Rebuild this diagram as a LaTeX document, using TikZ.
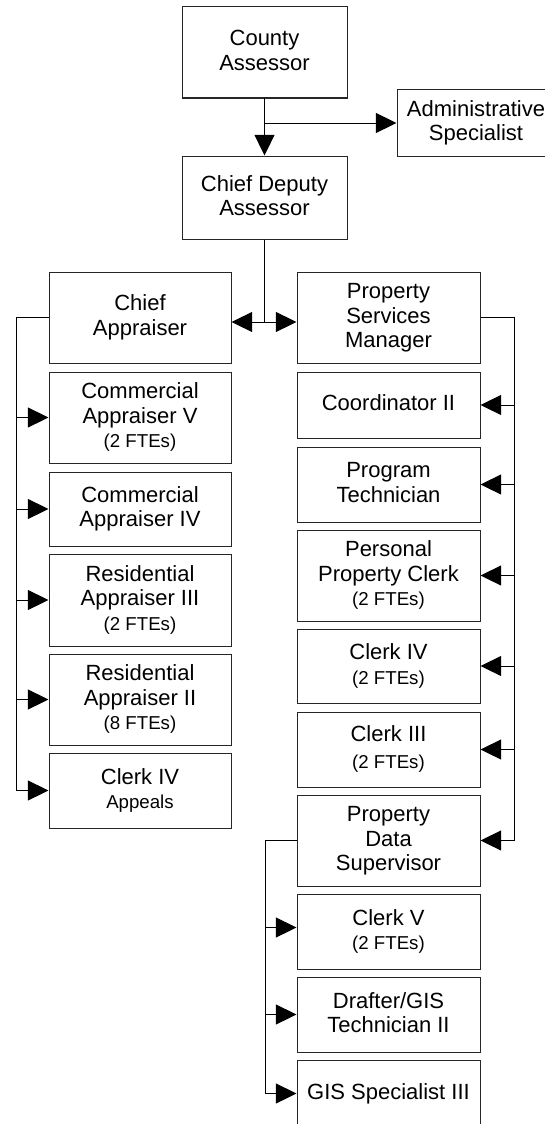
\documentclass[tikz,border=0pt]{standalone}
\usepackage{fontspec}
\setmainfont{Liberation Sans}
\usetikzlibrary{arrows.meta}
\newcommand\ls{\rule[-3.3pt]{0pt}{15.1pt}}
\newcommand\sm[1]{{\fontsize{14}{18.4}\selectfont #1}}
\setlength\lineskiplimit{-100pt}
\begin{document}
\begin{tikzpicture}[x=0.75pt,y=-0.75pt,
  box/.style={draw=black!85, line width=0.75pt, inner sep=0pt, align=center,
    font={\fontsize{16.5}{18.4}\selectfont}},
  sz/.style 2 args={minimum width=#1*0.75pt, minimum height=#2*0.75pt},
  conn/.style={draw=black, line width=0.75pt},
  arr/.style={conn, -{Triangle[length=15.5pt,width=15pt]}},
  ]
\useasboundingbox (0,0) rectangle (545,1124);
\fill[white] (0,0) rectangle (545,1124);
% top
\node[box, sz={165}{91}] (county) at (264.5,52.5) {\ls County\\\ls Assessor};
\node[box, sz={158}{66}] (admin) at (476,123) {\ls Administrative\\\ls Specialist};
\node[box, sz={165}{83}] (deputy) at (264.5,197.5) {\ls Chief Deputy\\\ls Assessor};
\node[box, sz={182}{91}] (chiefapp) at (140,317.5) {\ls Chief\\\ls Appraiser};
\node[box, sz={183}{91}] (psm) at (388.5,317.5) {\ls Property\\\ls Services\\\ls Manager};
% left column
\node[box, sz={182}{91}] (cav) at (140,417.5) {\ls Commercial\\\ls Appraiser V\\\ls\sm{(2 FTEs)}};
\node[box, sz={182}{74}] (caiv) at (140,509) {\ls Commercial\\\ls Appraiser IV};
\node[box, sz={182}{92}] (raiii) at (140,600) {\ls Residential\\\ls Appraiser III\\\ls\sm{(2 FTEs)}};
\node[box, sz={182}{91}] (raii) at (140,699.5) {\ls Residential\\\ls Appraiser II\\\ls\sm{(8 FTEs)}};
\node[box, sz={182}{75}] (clerkiva) at (140,790.5) {\ls Clerk IV\\\ls\sm{Appeals}};
% right column
\node[box, sz={183}{66}] (coord) at (388.5,405) {\ls Coordinator II};
\node[box, sz={183}{75}] (progtech) at (388.5,484.5) {\ls Program\\\ls Technician};
\node[box, sz={183}{91}] (ppc) at (388.5,575.5) {\ls Personal\\\ls Property Clerk\\\ls\sm{(2 FTEs)}};
\node[box, sz={183}{74}] (clerkiv) at (388.5,666) {\ls Clerk IV\\\ls\sm{(2 FTEs)}};
\node[box, sz={183}{75}] (clerkiii) at (388.5,749.5) {\ls Clerk III\\[2pt]\ls\sm{(2 FTEs)}};
\node[box, sz={183}{91}] (pds) at (388.5,840.5) {\ls Property\\\ls Data\\\ls Supervisor};
\node[box, sz={183}{75}] (clerkv) at (388.5,931.5) {\ls Clerk V\\\ls\sm{(2 FTEs)}};
\node[box, sz={183}{75}] (drafter) at (388.5,1014.5) {\ls Drafter/GIS\\\ls Technician II};
\node[box, sz={183}{67}] (gis) at (388.5,1093.5) {\ls GIS Specialist III};
% connectors top
\draw[arr] (county.south) -- (deputy.north);
\draw[arr] (county.south |- admin.west) -- (admin.west);
\coordinate (j) at (264.5,322);
\draw[conn] (deputy.south) -- (j);
\draw[arr] (j) -- (j -| chiefapp.east);
\draw[arr] (j) -- (j -| psm.west);
% left trunk
\coordinate (lt) at (16,317.5);
\draw[conn] (chiefapp.west) -- (lt) -- (lt |- clerkiva.west);
\foreach \n in {cav,caiv,raiii,raii,clerkiva} \draw[arr] (lt |- \n.west) -- (\n.west);
% right trunk
\coordinate (rt) at (514,317.5);
\draw[conn] (psm.east) -- (rt) -- (rt |- pds.east);
\foreach \n in {coord,progtech,ppc,clerkiv,clerkiii,pds} \draw[arr] (rt |- \n.east) -- (\n.east);
% sub trunk
\coordinate (st) at (265,840.5);
\draw[conn] (pds.west) -- (st) -- (st |- gis.west);
\coordinate (cvp) at ([yshift=3pt]clerkv.west);
\draw[arr] (st |- cvp) -- (cvp);
\draw[arr] (st |- drafter.west) -- (drafter.west);
\draw[arr] (st |- gis.west) -- (gis.west);
\end{tikzpicture}
\end{document}
